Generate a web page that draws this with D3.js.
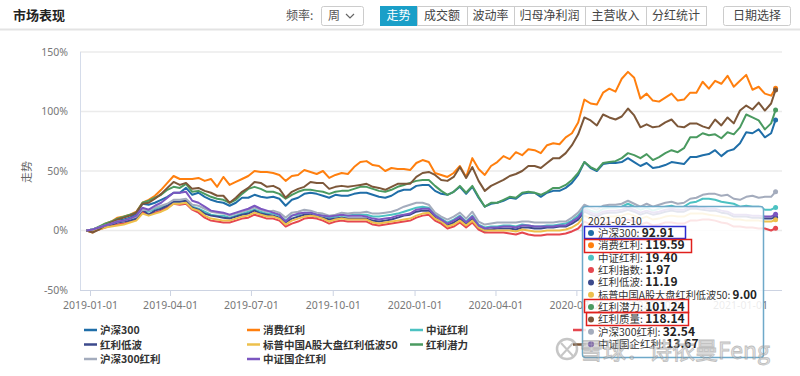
<!DOCTYPE html>
<html>
<head>
<meta charset="utf-8">
<script src="https://cdn.jsdelivr.net/npm/d3@7"></script>
<style>
  body { margin: 0; background: #fff; font-family: "Noto Sans CJK SC", "Noto Sans", sans-serif; }
  svg { display: block; }
</style>
</head>
<body>
<div id="chart"></div>
<script>
// series names, in legend order
var names = ["沪深300", "消费红利", "中证红利", "红利指数", "红利低波",
             "标普中国A股大盘红利低波50", "红利潜力", "红利质量", "沪深300红利", "中证国企红利"];
var colors = ["#1f6ea8", "#ff7f0e", "#4cc2c2", "#e5474f", "#3c4a8c",
              "#edc04c", "#4a9a60", "#7c5739", "#a4acbd", "#7b56c0"];

// weekly closes (Fridays from 2018-12-28) plus the last day 2021-02-10, cumulative %
var hs300 = [0,0.8,2.5,5,6.7,8.3,9.2,10.8,14.2,22.5, 21.7,23.3,25.8,28.3,31.7,31.7,35.8,30,31.7,28.3,
  25.8,24.2,23.3,20.8,23.3,27.5,27.5,30,28.3,27.5, 28.3,26.7,20.8,25.8,27.5,30.8,31.7,30.8,29.2,27.5,
  30,29.2,29.2,30.8,31.7,31.7,30,28.3,27.5,29.2, 32.5,34.2,34.2,37.5,38.3,38.3,33.3,30.8,30,32.5,
  36.7,30.8,36.7,27.5,20,22.5,23.3,25,27.5,26.7, 30.8,31.7,31.7,28.3,31.7,33.3,33.3,35.8,40,46.7,
  57.5,52.5,50,55.8,56.7,56.7,57.5,60.8,57.5,54.2, 56.7,52.5,53.3,55,57.5,56.7,55.8,61.7,61.7,63.3,
  64.2,67.5,62.5,66.7,68.3,73.3,82.5,81.7,85,78.3, 81.7,92.91];
var xfhl = [0,-1.7,2.5,5.8,7.5,10.8,11.7,13.3,15.8,23.3, 25.8,29.2,34.2,40,45.8,43.3,43.3,43.3,44.2,41.7,
  43.3,36.7,45,38.3,40.8,43.3,45.8,50,49.2,49.2, 48.3,46.7,41.7,45.8,46.7,50.8,49.2,47.5,50,44.2,
  46.7,48.3,47.5,53.3,57.5,58.3,55,54.2,50,52.5, 51.7,51.7,50.8,56.7,59.2,57.5,48.3,46.7,45,48.3,
  54.2,45,60.8,51.7,46.7,54.2,57.5,62.5,60,65.8, 63.3,68.3,67.5,65,71.7,73.3,72.5,78.3,81.7,90.8,
  110,106.7,105.8,115.8,119.2,116.7,127.5,133.3,128.3,110.8, 115,109.2,108.3,111.7,115,109.2,110,115.8,115.8,125,
  119.2,125.8,123.3,130,120.8,125.8,130.8,118.3,120.8,115, 113.3,119.59];
var zzhl = [0,0.8,2.5,4.2,5.8,7.5,8.3,9.2,10.8,16.7, 15.8,18.3,20,21.7,24.2,24.2,25,20,18.3,15.8,
  13.3,12.5,12.5,10.8,12.5,14.2,15.8,17.5,15.8,14.2, 14.2,12.5,8.3,12.5,13.3,15,15,13.3,12.5,10.8,
  11.7,12.5,12.5,13.3,13.3,13.3,11.7,11.7,12.5,13.3, 14.2,15.8,17.5,19.2,20,19.2,13.3,10,6.7,9.2,
  12.5,7.5,12.5,5,2.5,3.3,3.3,4.2,4.2,3.3, 5,4.2,3.3,3.3,4.2,4.2,5,5.8,8.3,12.5,
  19.2,16.7,15,18.3,19.2,19.2,20,22.5,20,17.5, 19.2,16.7,18.3,20,20.8,19.2,20,23.3,24.2,26.7,
  26.7,25.8,24.2,23.3,22.5,20,20.8,20,20,17.5, 17.5,19.4];
var hlzs = [0,-0.8,0.8,2.5,4.2,5,5.8,7.5,9.2,15.8, 13.3,15,16.7,19.2,22.5,21.7,22.5,17.5,15,10.8,
  8.3,7.5,6.7,6.7,8.3,10,10.8,13.3,11.7,10, 10,8.3,3.3,5.8,7.5,10,10.8,10,8.3,5.8,
  7.5,8.3,7.5,7.5,7.5,7.5,5,4.2,5,5.8, 6.7,7.5,8.3,10.8,12.5,13.3,8.3,5.8,1.7,3.3,
  6.7,2.5,6.7,0.8,-1.7,-1.7,-1.7,-1.7,-2.5,-3.3, -1.7,-3.3,-4.2,-4.2,-3.3,-3.3,-3.3,-2.5,-0.8,1.7,
  7.5,5,3.3,5.8,6.7,6.7,7.5,9.2,7.5,5, 6.7,4.2,5,6.7,6.7,5.8,5.8,8.3,8.3,9.2,
  9.2,8.3,6.7,5.8,3.3,3.3,2.5,2.5,1.7,1.7, 0,1.97];
var hldb = [0,0,1.7,3.3,5,6.7,7.5,8.3,10,17.5, 13.3,16.7,18.3,20.8,24.2,24.2,25,19.2,17.5,14.2,
  12.5,11.7,10.8,10,11.7,13.3,14.2,16.7,14.2,13.3, 12.5,10.8,6.7,10,11.7,13.3,13.3,11.7,10.8,9.2,
  10,10.8,10,10,10,10,8.3,7.5,8.3,9.2, 10.8,12.5,13.3,15.8,16.7,16.7,10.8,7.5,4.2,6.7,
  10,5,10,2.5,0,0.8,1.7,1.7,1.7,0.8, 2.5,2.5,1.7,1.7,2.5,2.5,3.3,3.3,5.8,9.2,
  15.8,13.3,11.7,14.2,15,15,15.8,17.5,15.8,13.3, 15,13.3,14.2,15.8,16.7,15.8,15.8,18.3,18.3,17.5,
  16.7,16.7,15,14.2,11.7,11.7,11.7,10.8,10.8,10, 10,11.19];
var bp50 = [0,0,0.8,2.5,3.3,4.2,5,6.7,8.3,14.2, 12.5,14.2,15.8,18.3,22.5,22.5,23.3,18.3,16.7,12.5,
  10,9.2,8.3,8.3,10,11.7,12.5,15,13.3,11.7, 11.7,10,5,8.3,10,11.7,12.5,11.7,10,7.5,
  9.2,10,9.2,9.2,9.2,9.2,6.7,5.8,6.7,7.5, 8.3,9.2,10,12.5,14.2,15,10,7.5,3.3,5,
  8.3,4.2,8.3,2.5,0,0,0,0,0,-0.8, 0.8,0,-0.8,-0.8,0,0,0,0.8,2.5,5.8,
  12.5,10,8.3,10.8,11.7,11.7,12.5,14.2,12.5,10, 11.7,9.2,10,11.7,12.5,11.7,11.7,14.2,14.2,14.2,
  13.3,12.5,11.7,10.8,9.2,9.2,8.3,8.3,8.3,7.5, 7.5,9.0];
var hlql = [0,0.8,3.3,5.8,7.5,10,11.7,13.3,15,23.3, 25,27.5,30,34.2,36.7,35.8,39.2,32.5,33.3,30.8,
  28.3,26.7,25.8,23.3,25.8,30.8,35,36.7,35,32.5, 32.5,30.8,26.7,30,32.5,34.2,34.2,33.3,32.5,30.8,
  32.5,33.3,33.3,35,36.7,36.7,35,33.3,32.5,34.2, 36.7,38.3,40,41.7,42.5,42.5,37.5,33.3,30,32.5,
  37.5,31.7,37.5,28.3,20,23.3,23.3,25.8,28.3,27.5, 31.7,32.5,31.7,30,32.5,35.8,35.8,38.3,42.5,48.3,
  57.5,53.3,50.8,56.7,57.5,58.3,60.8,65,63.3,60.8, 64.2,59.2,61.7,65,67.5,65.8,69.2,78.3,78.3,81.7,
  80,80.8,77.5,82.5,80.8,86.7,97.5,95,92.5,85, 90,101.24];
var hlzl = [0,-1.7,0.8,4.2,6.7,9.2,10.8,12.5,15,22.5, 23.3,26.7,30.8,35.8,40.8,38.3,40,35,35.8,33.3,
  31.7,29.2,29.2,23.3,27.5,32.5,35.8,40.8,40,36.7, 37.5,35,27.5,32.5,35,36.7,40.8,40,40,35,
  36.7,37.5,36.7,37.5,38.3,39.2,36.7,35.8,34.2,36.7, 39.2,39.2,39.2,45,48.3,49.2,46.7,42.5,41.7,45,
  53.3,44.2,53.3,41.7,33.3,37.5,40,42.5,45.8,47.5, 50,54.2,54.2,52.5,56.7,60.8,60.8,65,71.7,80.8,
  95,92.5,88.3,97.5,95,93.3,95.8,102.5,96.7,86.7, 89.2,86.7,87.5,90.8,93.3,87.5,86.7,90,90,87.5,
  85.8,93.3,88.3,95,90,100.8,105,101.7,107.5,100.8, 106.7,118.14];
var hs300hl = [0,0.8,2.5,4.2,5.8,7.5,8.3,10,11.7,17.5, 16.7,19.2,20.8,22.5,25.8,25.8,26.7,21.7,20.8,18.3,
  15.8,15,14.2,12.5,14.2,15.8,17.5,19.2,17.5,15.8, 16.7,15,10.8,15,15.8,17.5,16.7,15,14.2,12.5,
  13.3,15,14.2,15,15,15.8,14.2,14.2,15,15.8, 17.5,20,21.7,23.3,23.3,21.7,15,11.7,9.2,11.7,
  15,10,15.8,7.5,5,5.8,6.7,6.7,6.7,6.7, 7.5,7.5,6.7,6.7,6.7,6.7,7.5,7.5,10.8,15,
  21.7,19.2,17.5,20.8,21.7,21.7,22.5,25,22.5,20, 22.5,20,21.7,23.3,24.2,22.5,23.3,26.7,27.5,30,
  30.8,30.8,29.2,30,26.7,25.8,28.3,29.2,27.5,28.3, 28.3,32.54];
var gqhl = [0,0.8,2.5,4.2,5.8,7.5,8.3,10,12.5,19.2, 17.5,20.8,23.3,27.5,31.7,31.7,32.5,25,23.3,20,
  16.7,15.8,15,13.3,15,16.7,18.3,20.8,18.3,16.7, 15,13.3,7.5,12.5,14.2,15,15,13.3,12.5,11.7,
  12.5,13.3,12.5,12.5,12.5,11.7,10,9.2,10,10.8, 12.5,13.3,14.2,17.5,18.3,18.3,12.5,9.2,5.8,8.3,
  11.7,6.7,11.7,4.2,1.7,2.5,2.5,3.3,3.3,2.5, 4.2,4.2,3.3,3.3,3.3,3.3,4.2,4.2,7.5,10.8,
  17.5,15,13.3,15.8,16.7,16.7,17.5,19.2,17.5,15, 16.7,15,15.8,17.5,18.3,17.5,17.5,20,20,19.2,
  18.3,18.3,16.7,15.8,13.3,13.3,13.3,12.5,12.5,11.7, 11.7,13.67];

var series = [hs300, xfhl, zzhl, hlzs, hldb, bp50, hlql, hlzl, hs300hl, gqhl];

// dates: every Friday, then the last trading day shown in the tooltip
var lastDay = "2021-02-10";
var parse = d3.timeParse("%Y-%m-%d");
var dates = d3.timeFriday.range(parse("2018-12-28"), parse("2021-02-06")).concat([parse(lastDay)]);

var xTicks = ["2019-01-01", "2019-04-01", "2019-07-01", "2019-10-01", "2020-01-01",
              "2020-04-01", "2020-07-01", "2020-10-01", "2021-01-01"];
var yTicks = [-50, 0, 50, 100, 150];

var tabs = ["走势", "成交额", "波动率", "归母净利润", "主营收入", "分红统计"];

var svg = d3.select("#chart")
  .append("svg")
    .attr("width", 800)
    .attr("height", 376);

// ---- header bar
svg.append("line")
    .attr("x1", 0).attr("x2", 800).attr("y1", 29.5).attr("y2", 29.5)
    .attr("stroke", "#e3e3e3").attr("stroke-width", 2);
svg.append("text")
    .attr("x", 13).attr("y", 20)
    .text("市场表现")
    .style("font-size", "13px").style("font-weight", "bold").attr("fill", "#222");
svg.append("text")
    .attr("x", 286).attr("y", 20)
    .text("频率:")
    .style("font-size", "12px").attr("fill", "#555");
svg.append("rect")
    .attr("x", 321.5).attr("y", 6.5).attr("width", 42).attr("height", 19).attr("rx", 2)
    .attr("fill", "#fff").attr("stroke", "#ccc");
svg.append("text")
    .attr("x", 328).attr("y", 20)
    .text("周")
    .style("font-size", "12px").attr("fill", "#555");
svg.append("path")
    .attr("d", "M346,14 L350,18 L354,14")
    .attr("fill", "none").attr("stroke", "#666").attr("stroke-width", 1.2);

var tabW = [37, 50, 47, 71, 61, 60];
var tx = 380;
tabs.forEach(function(t, i) {
  var g = svg.append("g");
  g.append("rect")
      .attr("x", tx + 0.5).attr("y", 6.5).attr("width", tabW[i]).attr("height", 19)
      .attr("fill", i == 0 ? "#1a9fc8" : "#fff")
      .attr("stroke", i == 0 ? "#1a9fc8" : "#ccc");
  g.append("text")
      .attr("x", tx + tabW[i] / 2).attr("y", 20)
      .attr("text-anchor", "middle")
      .text(t)
      .style("font-size", "12px")
      .attr("fill", i == 0 ? "#fff" : "#444");
  tx += tabW[i];
});
svg.append("rect")
    .attr("x", 723.5).attr("y", 6.5).attr("width", 67).attr("height", 19).attr("rx", 2)
    .attr("fill", "#fff").attr("stroke", "#ccc");
svg.append("text")
    .attr("x", 757).attr("y", 20).attr("text-anchor", "middle")
    .text("日期选择")
    .style("font-size", "12px").attr("fill", "#444");

// ---- scales
var x = d3.scaleTime()
    .domain([parse("2019-01-01"), parse("2021-01-01")])
    .range([90, 740]);
var y = d3.scaleLinear()
    .domain([-50, 150])
    .range([290, 52]);

// grid
svg.append("g")
  .selectAll("line")
  .data(yTicks.filter(function(d) { return d > -50; }))
  .enter()
  .append("line")
    .attr("x1", 80).attr("x2", 782)
    .attr("y1", function(d) { return y(d); })
    .attr("y2", function(d) { return y(d); })
    .attr("stroke", "#ebebeb").attr("stroke-width", 1.5);

// axes
var yAxis = svg.append("g")
    .attr("transform", "translate(80,0)")
    .call(d3.axisLeft(y).tickValues(yTicks).tickSize(0).tickPadding(12)
      .tickFormat(function(d) { return d + "%"; }));
yAxis.select(".domain").remove();
yAxis.selectAll("text").style("font-size", "10.5px").attr("fill", "#777")
    .style("font-family", "'Noto Sans', sans-serif");

var xAxis = svg.append("g")
    .attr("transform", "translate(0,290)")
    .call(d3.axisBottom(x).tickValues(xTicks.map(parse)).tickSize(6).tickPadding(6)
      .tickFormat(d3.timeFormat("%Y-%m-%d")));
xAxis.select(".domain").remove();
xAxis.selectAll("line").attr("stroke", "#ccd3e2");
xAxis.selectAll("text").style("font-size", "10.5px").attr("fill", "#777")
    .style("font-family", "'Noto Sans', sans-serif");

svg.append("line")
    .attr("x1", 80.5).attr("x2", 80.5).attr("y1", 52).attr("y2", 290)
    .attr("stroke", "#d5dcea");
svg.append("line")
    .attr("x1", 80).attr("x2", 782).attr("y1", 290.5).attr("y2", 290.5)
    .attr("stroke", "#ccd3e2");

svg.append("text")
    .attr("transform", "translate(31,172) rotate(-90)")
    .attr("text-anchor", "middle")
    .text("走势")
    .style("font-size", "11px").attr("fill", "#666");

// ---- lines
var line = d3.line()
    .x(function(d, i) { return x(dates[i]); })
    .y(function(d) { return y(d); });

series.forEach(function(s, k) {
  svg.append("path")
      .datum(s)
      .attr("d", line)
      .attr("fill", "none")
      .attr("stroke", colors[k])
      .attr("stroke-width", 2)
      .attr("stroke-linejoin", "round");
});
series.forEach(function(s, k) {
  svg.append("circle")
      .attr("cx", x(dates[dates.length - 1]))
      .attr("cy", y(s[s.length - 1]))
      .attr("r", 2.5)
      .attr("fill", colors[k]);
});

// ---- legend (4th column sits under the tooltip, only its swatches peek out)
names.forEach(function(n, k) {
  var col = k % 4;
  var lx = 84 + col * 163, ly = 330 + Math.floor(k / 4) * 14.5;
  svg.append("line")
      .attr("x1", lx).attr("x2", lx + 13).attr("y1", ly).attr("y2", ly)
      .attr("stroke", colors[k]).attr("stroke-width", 2.5);
  if (col == 3) return;
  svg.append("text")
      .attr("x", lx + 16).attr("y", ly + 4)
      .text(n)
      .style("font-size", "10.5px").style("font-weight", "bold").attr("fill", "#333");
});

// ---- tooltip
var tip = svg.append("g");
tip.append("rect")
    .attr("x", 582.5).attr("y", 206.5).attr("width", 181).attr("height", 151).attr("rx", 3)
    .attr("fill", "rgba(255,255,255,0.86)")
    .attr("stroke", "#6ea9c9").attr("stroke-width", 1.5);
tip.append("text")
    .attr("x", 588).attr("y", 224.5)
    .text(lastDay)
    .style("font-size", "10.5px").attr("fill", "#333");
names.forEach(function(n, k) {
  var ry = 233 + k * 12.35;
  tip.append("circle")
      .attr("cx", 591).attr("cy", ry).attr("r", 3)
      .attr("fill", colors[k]);
  var t = tip.append("text")
      .attr("x", 598).attr("y", ry + 4)
      .attr("fill", "#333");
  t.append("tspan").text(n + ": ").style("font-size", "10.5px");
  t.append("tspan").text(series[k][series[k].length - 1].toFixed(2))
      .style("font-size", "12px").style("font-weight", "bold").attr("fill", "#222");
  // squeeze a row that would run past the box edge
  var w = t.node().getComputedTextLength();
  if (w > 159) t.attr("textLength", 159).attr("lengthAdjust", "spacingAndGlyphs");
});

// hand-drawn highlight boxes
tip.append("rect").attr("x", 584.5).attr("y", 226.5).attr("width", 101).attr("height", 12)
    .attr("fill", "none").attr("stroke", "#2a2ad0").attr("stroke-width", 1.5);
[[584.5, 239.5, 107], [584.5, 299.5, 104], [586.5, 312.5, 102]].forEach(function(b) {
  tip.append("rect").attr("x", b[0]).attr("y", b[1]).attr("width", b[2]).attr("height", 13)
      .attr("fill", "none").attr("stroke", "#e0201c").attr("stroke-width", 1.5);
});

// ---- watermark
var wm = svg.append("g").style("opacity", 0.55);
wm.append("circle")
    .attr("cx", 567).attr("cy", 349).attr("r", 10)
    .attr("fill", "none").attr("stroke", "#999").attr("stroke-width", 2.5);
wm.append("path")
    .attr("d", "M561,343 L573,356 M573,343 L561,356")
    .attr("stroke", "#999").attr("stroke-width", 2);
wm.append("text")
    .attr("x", 580).attr("y", 359)
    .text("雪球：诗依曼Feng")
    .style("font-size", "23px")
    .attr("fill", "#c8c8c8").attr("stroke", "#8a8a8a").attr("stroke-width", 0.8);
</script>
</body>
</html>
